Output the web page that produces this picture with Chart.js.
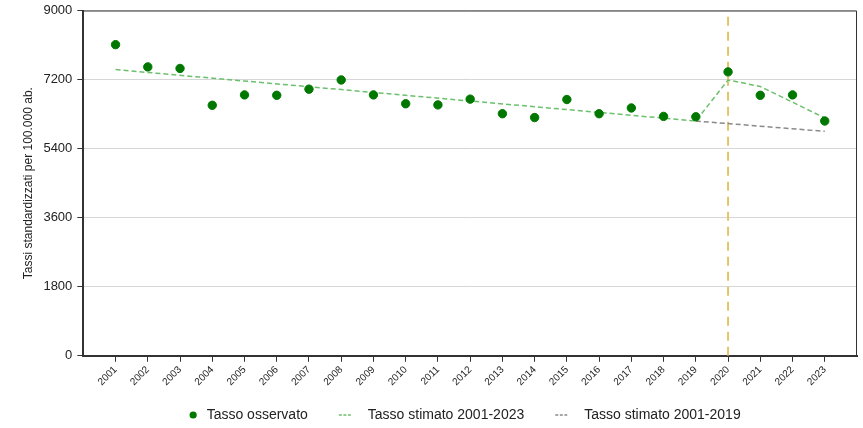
<!DOCTYPE html>
<html>
<head>
<meta charset="utf-8">
<script src="https://cdn.jsdelivr.net/npm/chart.js@4.4.0/dist/chart.umd.min.js"></script>
<style>
  html, body { margin: 0; padding: 0; background: #fff; }
  #box { width: 863px; height: 428px; }
</style>
</head>
<body>
<div id="box"><canvas id="grafico"></canvas></div>
<script>
// dati
const anni = [2001, 2002, 2003, 2004, 2005, 2006, 2007, 2008, 2009, 2010, 2011, 2012,
  2013, 2014, 2015, 2016, 2017, 2018, 2019, 2020, 2021, 2022, 2023];
const tassoOsservato = [8110, 7530, 7490, 6530, 6800, 6790, 6950, 7190, 6800, 6570, 6540, 6690,
  6310, 6210, 6680, 6310, 6460, 6240, 6230, 7400, 6790, 6800, 6120];
// stima 2001-2023 (punti di snodo, il resto e' retta)
const stima2023 = [7460, null, null, null, null, null, null, null, null, null, null, null,
  null, null, null, null, null, null, 6120, 7190, 7020, 6610, 6200];
// stima 2001-2019 prolungata
const stima2019 = [null, null, null, null, null, null, null, null, null, null, null, null,
  null, null, null, null, null, null, 6120, null, null, null, 5850];
const annoCovid = 2020;
const tickY = [0, 1800, 3600, 5400, 7200, 9000];

const verde = '#007800';
const verdeChiaro = '#6cbf6c';
const grigio = '#8a8a8a';
const giallo = '#e2c56a';
const FONT = "'Liberation Sans', Arial, sans-serif";

function punti(valori) {
  return anni.map((a, i) => ({ x: a, y: valori[i] }));
}

// cornice sopra e a destra dell'area del grafico
const cornice = {
  id: 'cornice',
  afterDatasetsDraw(chart) {
    const a = chart.chartArea, ctx = chart.ctx;
    ctx.save();
    ctx.strokeStyle = '#333';
    ctx.lineWidth = 1;
    ctx.beginPath();
    ctx.moveTo(a.left, a.top + 0.5);
    ctx.lineTo(a.right - 0.5, a.top + 0.5);
    ctx.lineTo(a.right - 0.5, a.bottom);
    ctx.stroke();
    ctx.restore();
  }
};

// legenda disegnata a mano sotto l'asse x
const legenda = {
  id: 'legenda',
  afterDraw(chart) {
    const ctx = chart.ctx;
    const voci = chart.data.datasets.filter(d => d.inLegenda);
    ctx.save();
    ctx.font = '14px ' + FONT;
    ctx.textBaseline = 'middle';
    const spazio = 31;
    const misure = voci.map(d => {
      const simbolo = d.type === 'scatter' ? 7 : 12;
      const stacco = d.type === 'scatter' ? 10 : 17;
      return { d, simbolo, stacco, testo: ctx.measureText(d.label).width };
    });
    let tot = 0;
    misure.forEach((m, i) => { tot += m.simbolo + m.stacco + m.testo + (i ? spazio : 0); });
    const a = chart.chartArea;
    let x = (a.left + a.right) / 2 - 5 - tot / 2;
    const y = 415;
    misure.forEach(m => {
      if (m.d.type === 'scatter') {
        ctx.fillStyle = m.d.backgroundColor;
        ctx.beginPath();
        ctx.arc(x + 3.5, y, 3.6, 0, Math.PI * 2);
        ctx.fill();
      } else {
        ctx.strokeStyle = m.d.borderColor;
        ctx.lineWidth = 1.5;
        ctx.setLineDash([3, 1.6]);
        ctx.beginPath();
        ctx.moveTo(x, y);
        ctx.lineTo(x + m.simbolo, y);
        ctx.stroke();
        ctx.setLineDash([]);
      }
      x += m.simbolo + m.stacco;
      ctx.fillStyle = '#222';
      ctx.fillText(m.d.label, x, y);
      x += m.testo + spazio;
    });
    ctx.restore();
  }
};

Chart.defaults.font.family = FONT;
Chart.defaults.color = '#222';

new Chart(document.getElementById('grafico').getContext('2d'), {
  type: 'line',
  data: {
    datasets: [
      {
        label: 'Tasso osservato',
        type: 'scatter',
        inLegenda: true,
        data: punti(tassoOsservato),
        backgroundColor: verde,
        borderColor: verde,
        pointRadius: 4.2,
        pointHoverRadius: 4.2,
        order: 0
      },
      {
        label: 'Tasso stimato 2001-2023',
        inLegenda: true,
        data: punti(stima2023),
        borderColor: verdeChiaro,
        backgroundColor: verdeChiaro,
        borderWidth: 1.5,
        borderDash: [5, 3],
        pointRadius: 0,
        spanGaps: true,
        tension: 0,
        order: 1
      },
      {
        label: 'Tasso stimato 2001-2019',
        inLegenda: true,
        data: punti(stima2019),
        borderColor: grigio,
        backgroundColor: grigio,
        borderWidth: 1.5,
        borderDash: [5, 3],
        pointRadius: 0,
        spanGaps: true,
        tension: 0,
        order: 2
      },
      {
        label: 'covid',
        data: [{ x: annoCovid, y: tickY[0] }, { x: annoCovid, y: tickY[tickY.length - 1] }],
        borderColor: giallo,
        borderWidth: 2,
        borderDash: [9, 6],
        pointRadius: 0,
        order: 3
      }
    ]
  },
  options: {
    responsive: true,
    maintainAspectRatio: false,
    animation: false,
    layout: { padding: { top: 0, right: 6, bottom: 38, left: 21 } },
    plugins: {
      tooltip: { enabled: false },
      legend: { display: false }
    },
    scales: {
      x: {
        type: 'linear',
        min: anni[0] - 1,
        max: anni[anni.length - 1] + 1,
        afterBuildTicks(scale) {
          scale.ticks = anni.map(a => ({ value: a }));
        },
        ticks: {
          autoSkip: false,
          minRotation: 45,
          maxRotation: 45,
          padding: 2,
          color: '#222',
          font: { size: 10, family: FONT },
          callback: (v) => String(v)
        },
        grid: {
          drawOnChartArea: false,
          drawTicks: true,
          tickLength: 6,
          tickColor: '#333'
        },
        border: { color: '#333', width: 2 }
      },
      y: {
        min: tickY[0],
        max: tickY[tickY.length - 1],
        afterBuildTicks(scale) {
          scale.ticks = tickY.map(v => ({ value: v }));
        },
        ticks: {
          padding: 5,
          color: '#222',
          font: { size: 13, family: FONT, lineHeight: 0.85 },
          callback: (v) => String(v)
        },
        grid: {
          color: '#d6d6d6',
          lineWidth: 1,
          tickLength: 6,
          tickColor: '#333'
        },
        border: { color: '#333', width: 2 },
        title: {
          display: true,
          text: 'Tassi standardizzati per 100.000 ab.',
          color: '#222',
          font: { size: 12, family: FONT },
          padding: { top: 0, bottom: 3 }
        }
      }
    }
  },
  plugins: [cornice, legenda]
});
</script>
</body>
</html>
